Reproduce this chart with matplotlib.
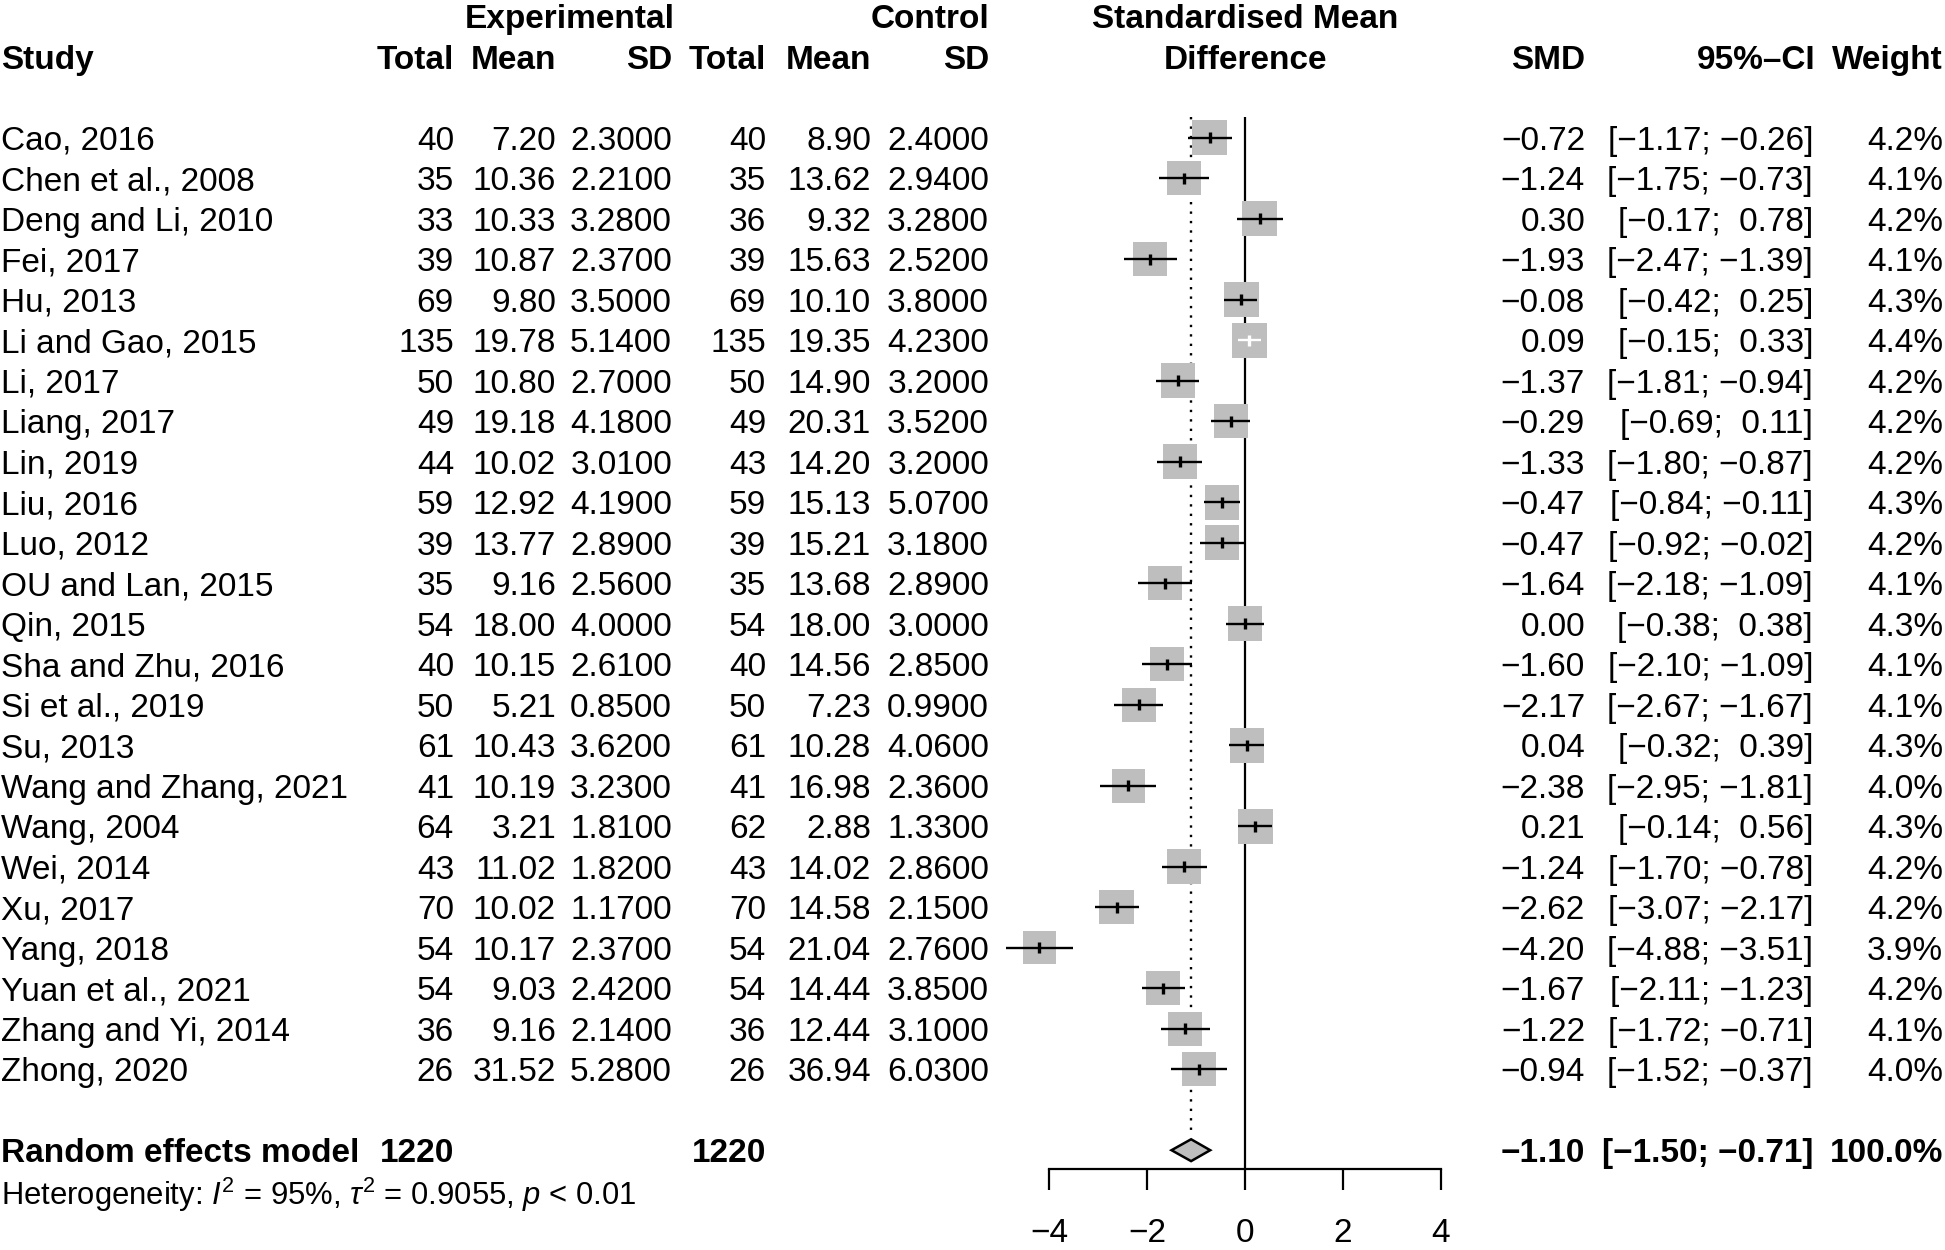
import matplotlib
matplotlib.use("Agg")
import matplotlib.pyplot as plt
from matplotlib import transforms
from matplotlib.patches import Polygon
import numpy as np

plt.rcParams['font.family'] = ['Liberation Sans', 'DejaVu Sans']
plt.rcParams['mathtext.fontset'] = 'custom'
plt.rcParams['mathtext.rm'] = 'Liberation Sans'
plt.rcParams['mathtext.it'] = 'Liberation Sans:italic'
plt.rcParams['mathtext.bf'] = 'Liberation Sans:bold'

# data
studies = ["Cao, 2016", "Chen et al., 2008", "Deng and Li, 2010", "Fei, 2017", "Hu, 2013",
           "Li and Gao, 2015", "Li, 2017", "Liang, 2017", "Lin, 2019", "Liu, 2016", "Luo, 2012",
           "OU and Lan, 2015", "Qin, 2015", "Sha and Zhu, 2016", "Si et al., 2019", "Su, 2013",
           "Wang and Zhang, 2021", "Wang, 2004", "Wei, 2014", "Xu, 2017", "Yang, 2018",
           "Yuan et al., 2021", "Zhang and Yi, 2014", "Zhong, 2020"]
exp_n = [40, 35, 33, 39, 69, 135, 50, 49, 44, 59, 39, 35, 54, 40, 50, 61, 41, 64, 43, 70, 54, 54, 36, 26]
exp_mean = [7.20, 10.36, 10.33, 10.87, 9.80, 19.78, 10.80, 19.18, 10.02, 12.92, 13.77, 9.16,
            18.00, 10.15, 5.21, 10.43, 10.19, 3.21, 11.02, 10.02, 10.17, 9.03, 9.16, 31.52]
exp_sd = [2.30, 2.21, 3.28, 2.37, 3.50, 5.14, 2.70, 4.18, 3.01, 4.19, 2.89, 2.56,
          4.00, 2.61, 0.85, 3.62, 3.23, 1.81, 1.82, 1.17, 2.37, 2.42, 2.14, 5.28]
ctl_n = [40, 35, 36, 39, 69, 135, 50, 49, 43, 59, 39, 35, 54, 40, 50, 61, 41, 62, 43, 70, 54, 54, 36, 26]
ctl_mean = [8.90, 13.62, 9.32, 15.63, 10.10, 19.35, 14.90, 20.31, 14.20, 15.13, 15.21, 13.68,
            18.00, 14.56, 7.23, 10.28, 16.98, 2.88, 14.02, 14.58, 21.04, 14.44, 12.44, 36.94]
ctl_sd = [2.40, 2.94, 3.28, 2.52, 3.80, 4.23, 3.20, 3.52, 3.20, 5.07, 3.18, 2.89,
          3.00, 2.85, 0.99, 4.06, 2.36, 1.33, 2.86, 2.15, 2.76, 3.85, 3.10, 6.03]
smd = [-0.72, -1.24, 0.30, -1.93, -0.08, 0.09, -1.37, -0.29, -1.33, -0.47, -0.47, -1.64,
       0.00, -1.60, -2.17, 0.04, -2.38, 0.21, -1.24, -2.62, -4.20, -1.67, -1.22, -0.94]
ci_lo = [-1.17, -1.75, -0.17, -2.47, -0.42, -0.15, -1.81, -0.69, -1.80, -0.84, -0.92, -2.18,
         -0.38, -2.10, -2.67, -0.32, -2.95, -0.14, -1.70, -3.07, -4.88, -2.11, -1.72, -1.52]
ci_hi = [-0.26, -0.73, 0.78, -1.39, 0.25, 0.33, -0.94, 0.11, -0.87, -0.11, -0.02, -1.09,
         0.38, -1.09, -1.67, 0.39, -1.81, 0.56, -0.78, -2.17, -3.51, -1.23, -0.71, -0.37]
weight = [4.2, 4.1, 4.2, 4.1, 4.3, 4.4, 4.2, 4.2, 4.2, 4.3, 4.2, 4.1,
          4.3, 4.1, 4.1, 4.3, 4.0, 4.3, 4.2, 4.2, 3.9, 4.2, 4.1, 4.0]

pooled = [-1.10, -1.50, -0.71]
total_exp, total_ctl = 1220, 1220
het_text = r"Heterogeneity: $\mathit{I}^2$ = 95%, $\tau^2$ = 0.9055, $\mathit{p}$ < 0.01"
x_ticks = [-4, -2, 0, 2, 4]

GRAY = "#BEBEBE"
FS = 24


def fmt(v, pad=False):
    s = f"{v:.2f}".replace("-", "\u2212")
    if pad and v >= 0:
        s = " " + s
    return s


W, H = 1945, 1250
fig = plt.figure(figsize=(W / 100, H / 100), dpi=100)

# pixel geometry of the forest panel
x_lo_px, x_hi_px = 1049, 1441
row0_px, row_step, axis_px = 137.7, 40.5, 1169
ax = fig.add_axes([x_lo_px / W, 1 - axis_px / H, (x_hi_px - x_lo_px) / W, axis_px / H])
ax.set_xlim(-4, 4)
top_row = -row0_px / row_step
bot_row = (axis_px - row0_px) / row_step
ax.set_ylim(bot_row, top_row)

for s in ["left", "right", "top"]:
    ax.spines[s].set_visible(False)
ax.spines["bottom"].set_linewidth(1.6)
ax.set_yticks([])
ax.set_xticks(x_ticks)
ax.tick_params(axis="x", length=15, width=1.6, pad=20, labelsize=FS)

rows = np.arange(len(studies))
n_rows = len(studies)
pool_row = n_rows + 1
het_row = n_rows + 2

# reference lines
ax.vlines(0, -0.5, bot_row, color="black", lw=1.6, clip_on=False, zorder=1)
dh = 0.27
ax.vlines(pooled[0], -0.5, pool_row - dh - 0.05, color="black", lw=1.7,
          linestyles=(0, (1, 3.0)), zorder=1)

# study squares and CIs
unit_px = (x_hi_px - x_lo_px) / 8
side_pt = 12.1 * np.sqrt(np.array(weight))
ax.scatter(smd, rows, marker="s", s=side_pt ** 2, color=GRAY, linewidths=0,
           zorder=2, clip_on=False)
for r, est, lo, hi, sp in zip(rows, smd, ci_lo, ci_hi, side_pt):
    side_px = sp / 0.72
    col = "white" if (hi - lo) * unit_px < 0.8 * side_px else "black"
    ax.hlines(r, lo, hi, color=col, lw=1.7, zorder=3, clip_on=False)
    ax.vlines(est, r - 0.14, r + 0.14, color=col, lw=2.4, zorder=3, clip_on=False)

# pooled diamond
diamond = Polygon([[pooled[1], pool_row], [pooled[0], pool_row - dh],
                   [pooled[2], pool_row], [pooled[0], pool_row + dh]],
                  closed=True, facecolor=GRAY, edgecolor="black", lw=1.8, zorder=3)
ax.add_patch(diamond)

# text columns
tr = transforms.blended_transform_factory(fig.transFigure, ax.transData)


def put(px, row, txt, ha="right", bold=False, size=FS):
    ax.text(px / W, row, txt, transform=tr, ha=ha, va="center_baseline",
            fontsize=size, fontweight="bold" if bold else "normal", clip_on=False)


col_x = {"study": 1, "en": 454, "em": 556, "esd": 672, "cn": 766, "cm": 871, "csd": 989,
         "smd": 1585, "ci": 1813, "w": 1943}

# headers
put(675, -3, "Experimental", bold=True)
put(989, -3, "Control", bold=True)
put(1245, -3, "Standardised Mean", ha="center", bold=True)
put(1245, -2, "Difference", ha="center", bold=True)
put(col_x["study"], -2, "Study", ha="left", bold=True)
put(col_x["en"], -2, "Total", bold=True)
put(col_x["em"], -2, "Mean", bold=True)
put(col_x["esd"], -2, "SD", bold=True)
put(col_x["cn"], -2, "Total", bold=True)
put(col_x["cm"], -2, "Mean", bold=True)
put(col_x["csd"], -2, "SD", bold=True)
put(col_x["smd"], -2, "SMD", bold=True)
put(1815, -2, "95%\u2013CI", bold=True)
put(col_x["w"], -2, "Weight", bold=True)

for i in range(n_rows):
    put(col_x["study"], i, studies[i], ha="left")
    put(col_x["en"], i, str(exp_n[i]))
    put(col_x["em"], i, f"{exp_mean[i]:.2f}")
    put(col_x["esd"], i, f"{exp_sd[i]:.4f}")
    put(col_x["cn"], i, str(ctl_n[i]))
    put(col_x["cm"], i, f"{ctl_mean[i]:.2f}")
    put(col_x["csd"], i, f"{ctl_sd[i]:.4f}")
    put(col_x["smd"], i, fmt(smd[i]))
    put(col_x["ci"], i, f"[{fmt(ci_lo[i])}; {fmt(ci_hi[i], pad=True)}]")
    put(col_x["w"], i, f"{weight[i]:.1f}%")

put(col_x["study"], pool_row, "Random effects model", ha="left", bold=True)
put(col_x["en"], pool_row, str(total_exp), bold=True)
put(col_x["cn"], pool_row, str(total_ctl), bold=True)
put(col_x["smd"], pool_row, fmt(pooled[0]), bold=True)
put(col_x["ci"], pool_row, f"[{fmt(pooled[1])}; {fmt(pooled[2])}]", bold=True)
put(col_x["w"], pool_row, "100.0%", bold=True)
put(col_x["study"], het_row, het_text, ha="left", size=22.3)

fig.savefig("out.png", dpi=100)
